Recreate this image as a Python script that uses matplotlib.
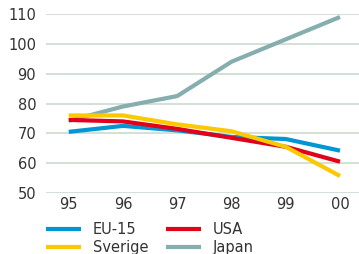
import matplotlib.pyplot as plt
from matplotlib.lines import Line2D

years = [95, 96, 97, 98, 99, 100]
year_labels = ["95", "96", "97", "98", "99", "00"]

eu15 = [70.5, 72.5, 71.0, 68.8, 68.1, 64.2]
usa = [74.5, 74.0, 71.5, 68.5, 65.5, 60.5]
sverige = [76.0, 76.0, 73.0, 70.7, 65.5, 55.7]
japan = [74.2, 79.0, 82.5, 94.0, 101.5, 109.0]

series = [
    ("EU-15", eu15, "#0096d6"),
    ("USA", usa, "#e2001a"),
    ("Sverige", sverige, "#fcc800"),
    ("Japan", japan, "#86aeae"),
]

fig = plt.figure(figsize=(3.59, 2.54), dpi=100)
ax = fig.add_axes([0.128, 0.240, 0.872, 0.705])

# draw order: japan at the back
for name, vals, col in [series[3], series[0], series[1], series[2]]:
    ax.plot(years, vals, color=col, lw=3.0, solid_capstyle="butt",
            solid_joinstyle="round", clip_on=False, zorder=3)

ax.set_xlim(94.58, 100.35)
ax.set_ylim(50, 110)
ax.set_yticks(range(50, 111, 10))
ax.set_xticks(years)
ax.set_xticklabels(year_labels)
ax.grid(axis="y", color="#c9dacd", lw=1.2)
ax.set_axisbelow(True)
for s in ax.spines.values():
    s.set_visible(False)
ax.tick_params(length=0, labelsize=10.5, colors="#333333")
ax.tick_params(axis="y", pad=7)
ax.tick_params(axis="x", pad=3)

handles = [Line2D([], [], color=c, lw=3.0, solid_capstyle="butt") for _, _, c in series]
labels = [n for n, _, _ in series]
order = [0, 2, 1, 3]
fig.legend([handles[i] for i in order], [labels[i] for i in order],
           ncol=2, loc="upper left", bbox_to_anchor=(0.113, 0.147),
           frameon=False, fontsize=10.5, handlelength=2.4, handletextpad=0.8,
           columnspacing=1.2, labelspacing=0.15, labelcolor="#333333",
           borderaxespad=0)

fig.savefig("out.png", dpi=100)
